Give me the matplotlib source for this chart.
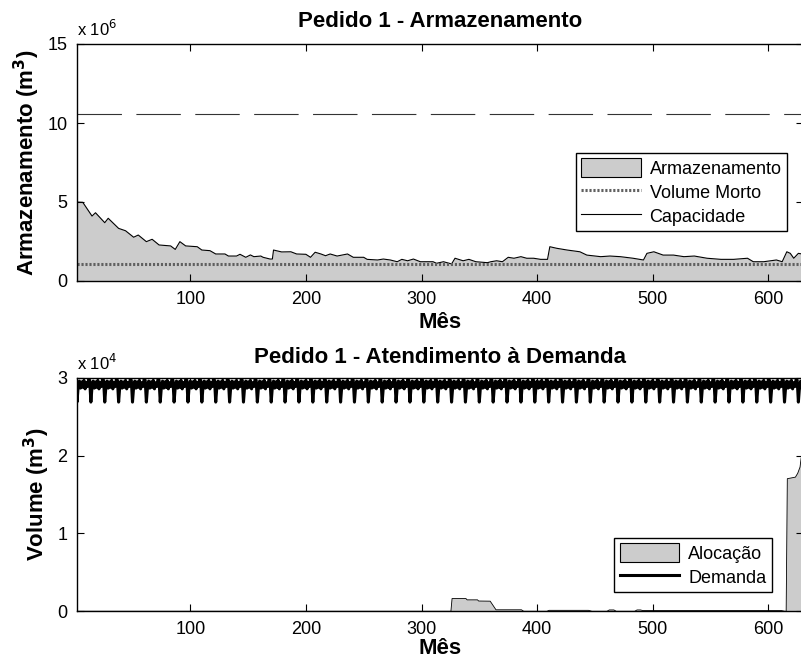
import numpy as np
import matplotlib
matplotlib.use('Agg')
import matplotlib.pyplot as plt
from matplotlib.patches import Patch
from matplotlib.lines import Line2D
from matplotlib.ticker import FuncFormatter

plt.rcParams['font.family'] = ['Liberation Sans', 'DejaVu Sans']

# Armazenamento (m3), em pontos (mes, valor x 1e6)
arm_mes = [1, 7, 15, 18, 26, 29, 38, 44, 51, 55, 62, 67, 73, 83, 87, 91, 96, 106, 110, 117,
           122, 130, 133, 140, 143, 148, 152, 155, 161, 163, 169, 171, 172, 179, 187, 192, 200, 204,
           208, 213, 217, 221, 227, 236, 241, 250, 253, 262, 267, 273, 279, 283, 288, 293, 299,
           310, 313, 319, 326, 329, 336, 341, 347, 357, 360, 365, 370, 375, 380, 386, 391, 397,
           403, 409, 411, 417, 426, 437, 443, 455, 463, 472, 483, 492, 495, 501, 509, 518, 527,
           536, 547, 559, 570, 582, 587, 596, 607, 612, 616, 619, 622, 626, 630]
arm_val = [5.00, 4.98, 4.11, 4.32, 3.69, 3.97, 3.33, 3.18, 2.77, 2.91, 2.49, 2.64, 2.28, 2.22,
           2.00, 2.49, 2.22, 2.17, 1.96, 1.92, 1.71, 1.71, 1.58, 1.58, 1.69, 1.50, 1.65, 1.54,
           1.58, 1.50, 1.39, 1.39, 1.96, 1.84, 1.85, 1.71, 1.69, 1.50, 1.82, 1.71, 1.60, 1.71,
           1.58, 1.71, 1.50, 1.50, 1.37, 1.33, 1.39, 1.33, 1.22, 1.37, 1.28, 1.39, 1.22, 1.22,
           1.12, 1.22, 1.08, 1.44, 1.28, 1.37, 1.22, 1.16, 1.22, 1.28, 1.22, 1.50, 1.44, 1.54,
           1.44, 1.44, 1.37, 1.37, 2.17, 2.07, 1.96, 1.85, 1.64, 1.54, 1.58, 1.54, 1.44, 1.33,
           1.75, 1.85, 1.64, 1.64, 1.54, 1.58, 1.44, 1.37, 1.37, 1.44, 1.22, 1.22, 1.33, 1.22,
           1.85, 1.75, 1.44, 1.75, 1.70]
volume_morto = 1.08e6
capacidade = 10.57e6

# Alocacao (m3)
aloc_mes = [1, 325, 326, 338, 339, 348, 349, 359, 364, 386, 388, 408, 410, 444, 447, 460, 462,
            466, 468, 484, 486, 489, 491, 611, 614, 615, 616, 623, 625, 627, 628, 630]
aloc_val = [30, 30, 1670, 1670, 1500, 1500, 1350, 1330, 220, 220, 30, 30, 150, 150, 30, 30, 200,
            200, 30, 30, 200, 200, 120, 120, 30, 30, 17100, 17300, 17800, 18600, 19800, 20000]

# Demanda mensal (m3), perfil anual que se repete
demanda_ano = [29700, 26900, 28900, 29600, 28700, 29500, 28800, 29700, 28600, 29400, 28900, 29800]
n_meses = 630

meses = np.arange(1, n_meses + 1)
demanda = np.tile(demanda_ano, n_meses // 12 + 1)[:n_meses]
arm = np.array(arm_val) * 1e6

fig = plt.figure(figsize=(8.01, 6.64), dpi=100)
ax1 = fig.add_axes([77 / 801, 1 - 281 / 664, 726 / 801, 237 / 664])
ax2 = fig.add_axes([77 / 801, 1 - 611 / 664, 726 / 801, 233 / 664])

fs = 13     # ticks, legenda
fs_t = 16   # titulos e rotulos
cinza = '#cccccc'
pontilhado = (0, (0.7, 0.6))

# --- Armazenamento ---
ax1.fill_between(arm_mes, arm, 0, color=cinza, lw=0)
ax1.plot(arm_mes, arm, color='k', lw=0.8)
ax1.axhline(volume_morto, color='#606060', ls=pontilhado, lw=2.2)
ax1.axhline(capacidade, color='#333333', ls=(0, (40, 13)), lw=0.8)
ax1.set_ylim(0, 15e6)
ax1.set_yticks([0, 5e6, 10e6, 15e6])
ax1.yaxis.set_major_formatter(FuncFormatter(lambda v, p: f'{v / 1e6:g}'))
ax1.text(0.0, 1.02, r'x 10$^{6}$', transform=ax1.transAxes, fontsize=12, ha='left', va='bottom')
ax1.set_title('Pedido 1 - Armazenamento', fontsize=fs_t, fontweight='bold', pad=12)
ax1.set_ylabel('Armazenamento (m$^\\mathbf{3}$)', fontsize=fs_t, fontweight='bold', labelpad=4)
ax1.set_xlabel('Mês', fontsize=fs_t, fontweight='bold', labelpad=3)
h1 = [Patch(facecolor=cinza, edgecolor='k', lw=0.8),
      Line2D([], [], color='#606060', ls=pontilhado, lw=2.2),
      Line2D([], [], color='k', lw=0.8)]
ax1.legend(h1, ['Armazenamento', 'Volume Morto', 'Capacidade'], loc='upper right',
           bbox_to_anchor=(0.978, 0.540), borderaxespad=0, fontsize=fs, fancybox=False,
           edgecolor='k', framealpha=1, handlelength=3.3, handleheight=1.2, labelspacing=0.25,
           borderpad=0.3, handletextpad=0.5)

# --- Atendimento a demanda ---
ax2.fill_between(aloc_mes, aloc_val, 0, color=cinza, edgecolor='k', lw=0.6)
ax2.plot(meses, demanda, color='k', lw=2.2)
ax2.set_ylim(0, 3e4)
ax2.set_yticks([0, 1e4, 2e4, 3e4])
ax2.yaxis.set_major_formatter(FuncFormatter(lambda v, p: f'{v / 1e4:g}'))
ax2.text(0.0, 1.02, r'x 10$^{4}$', transform=ax2.transAxes, fontsize=12, ha='left', va='bottom')
ax2.set_title('Pedido 1 - Atendimento à Demanda', fontsize=fs_t, fontweight='bold', pad=11)
ax2.set_ylabel('Volume (m$^\\mathbf{3}$)', fontsize=fs_t, fontweight='bold', labelpad=4)
ax2.set_xlabel('Mês', fontsize=fs_t, fontweight='bold', labelpad=0.5)
h2 = [Patch(facecolor=cinza, edgecolor='k', lw=0.8),
      Line2D([], [], color='k', lw=2.2)]
ax2.legend(h2, ['Alocação', 'Demanda'], loc='upper right', bbox_to_anchor=(0.957, 0.313),
           borderaxespad=0, fontsize=fs, fancybox=False, edgecolor='k', framealpha=1,
           handlelength=3.3, handleheight=1.2, labelspacing=0.25, borderpad=0.3,
           handletextpad=0.5)

for ax in (ax1, ax2):
    ax.set_xlim(2, 630)
    ax.set_xticks([100, 200, 300, 400, 500, 600])
    ax.tick_params(direction='in', top=True, right=True, length=5, labelsize=fs, pad=7)
    for s in ax.spines.values():
        s.set_linewidth(1)

fig.savefig('out.png', dpi=100)
